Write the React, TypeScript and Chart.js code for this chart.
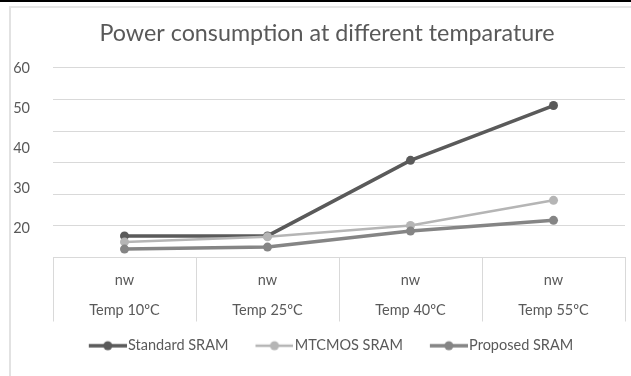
import React, { useEffect, useRef } from "react";
import { Chart, registerables } from "chart.js";

Chart.register(...registerables);

// Temperature categories on the x axis, each with its unit row above it
const categories = ["Temp 10ºC", "Temp 25ºC", "Temp 40ºC", "Temp 55ºC"];
const unitLabel = "nw";

// Power consumption per SRAM design
const standardSram = [18.1, 18.1, 37.0, 50.7];
const mtcmosSram = [16.6, 17.9, 20.7, 27.0];
const proposedSram = [14.8, 15.3, 19.3, 22.0];

const seriesNames = ["Standard SRAM", "MTCMOS SRAM", "Proposed SRAM"];
const seriesColors = ["#5a5a5a", "#b5b5b5", "#858585"];

// Value axis range for the labelled scale and the gridline scale
const valueMin = 12.7;
const valueMax = 60.1;
const gridMin = 0;
const gridMax = 60;
const tickStep = 10;

const TEXT = "#595959";
const GRID = "#d9d9d9";
const FONT = "Lato";
const LABEL_SIZE = 14.5;

// Legend marker: a short line with a dot, like the series it stands for
function legendIcon(color: string, lineWidth: number): HTMLCanvasElement {
  const c = document.createElement("canvas");
  c.width = 52;
  c.height = 12;
  const ctx = c.getContext("2d")!;
  ctx.strokeStyle = color;
  ctx.lineWidth = lineWidth;
  ctx.beginPath();
  ctx.moveTo(14, 6);
  ctx.lineTo(52, 6);
  ctx.stroke();
  ctx.fillStyle = color;
  ctx.beginPath();
  ctx.arc(33, 6, 4.5, 0, Math.PI * 2);
  ctx.fill();
  return c;
}

export default function App() {
  const ref = useRef<HTMLCanvasElement | null>(null);

  useEffect(() => {
    if (!ref.current) return;
    const widths = [3.5, 2.5, 3.5];
    const icons = seriesColors.map((c, i) => legendIcon(c, widths[i]));
    const values = [standardSram, mtcmosSram, proposedSram];

    const chart = new Chart(ref.current, {
      type: "line",
      data: {
        labels: categories.map((c) => [unitLabel, c]),
        datasets: values.map((data, i) => ({
          label: seriesNames[i],
          data,
          yAxisID: "y",
          borderColor: seriesColors[i],
          backgroundColor: seriesColors[i],
          pointBackgroundColor: seriesColors[i],
          pointBorderColor: seriesColors[i],
          borderWidth: widths[i],
          pointRadius: 4.5,
          pointBorderWidth: 0,
          tension: 0,
          order: 3 - i,
        })),
      },
      options: {
        responsive: false,
        animation: false,
        layout: { padding: { left: 10, right: 0, top: 0, bottom: 13 } },
        plugins: {
          title: {
            display: true,
            text: "Power consumption at different temparature",
            color: TEXT,
            font: { family: FONT, size: 23.3, weight: "normal" },
            padding: { top: 19, bottom: 21 },
          },
          legend: {
            position: "bottom",
            labels: {
              color: TEXT,
              font: { family: FONT, size: LABEL_SIZE },
              usePointStyle: true,
              pointStyleWidth: 40,
              boxHeight: LABEL_SIZE,
              padding: 19,
              generateLabels: (ch: any) => {
                const items = Chart.defaults.plugins.legend.labels.generateLabels(ch);
                items.forEach((it: any) => {
                  it.pointStyle = icons[it.datasetIndex];
                });
                return items.sort((a: any, b: any) => a.datasetIndex - b.datasetIndex);
              },
            },
          },
          tooltip: { enabled: false },
        },
        scales: {
          x: {
            type: "category",
            offset: true,
            grid: {
              display: true,
              offset: true,
              drawOnChartArea: false,
              drawTicks: true,
              tickLength: 64,
              color: GRID,
              lineWidth: 1,
            },
            border: { display: true, color: GRID, width: 1 },
            ticks: {
              color: TEXT,
              font: { family: FONT, size: LABEL_SIZE, lineHeight: 30 / LABEL_SIZE },
              padding: -56,
              maxRotation: 0,
              autoSkip: false,
            },
            afterFit: (s: any) => {
              s.height = 62;
            },
          },
          y: {
            type: "linear",
            position: "left",
            min: valueMin,
            max: valueMax,
            grid: { display: false },
            border: { display: false },
            ticks: {
              stepSize: tickStep,
              includeBounds: false,
              color: TEXT,
              font: { family: FONT, size: LABEL_SIZE },
              padding: 15,
            },
            afterFit: (s: any) => {
              s.width = 43;
            },
          },
          yg: {
            type: "linear",
            position: "left",
            min: gridMin,
            max: gridMax,
            grid: { display: true, color: GRID, lineWidth: 1, drawTicks: false },
            border: { display: false },
            ticks: { display: false, stepSize: tickStep },
            afterFit: (s: any) => {
              s.width = 0;
            },
          },
          yr: {
            type: "linear",
            position: "right",
            grid: { display: false },
            border: { display: false },
            ticks: { display: false },
            afterFit: (s: any) => {
              s.width = 19;
            },
          },
        },
      },
    });
    return () => chart.destroy();
  }, []);

  return (
    <div
      style={{
        position: "fixed",
        left: 0,
        top: 0,
        width: 631,
        height: 376,
        overflow: "hidden",
        background: "#ffffff",
      }}
    >
      <div style={{ position: "absolute", left: 0, top: 0, width: 631, height: 2, background: "#000" }} />
      <div
        style={{
          position: "absolute",
          left: 9,
          top: 6,
          width: 660,
          height: 400,
          borderLeft: "2px solid #e2e2e2",
          borderTop: "2px solid #e6e6e6",
        }}
      />
      <canvas ref={ref} width={644} height={376} style={{ position: "absolute", left: 0, top: 0 }} />
    </div>
  );
}
